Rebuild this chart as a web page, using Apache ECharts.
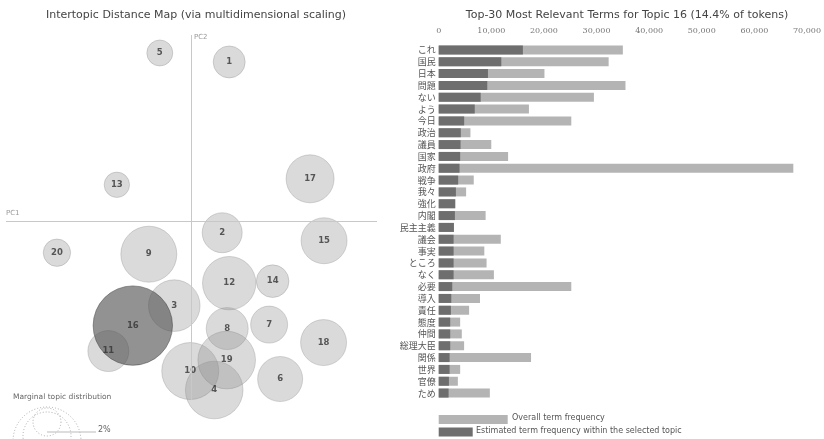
<!DOCTYPE html>
<html>
<head>
<meta charset="utf-8">
<script src="https://cdn.jsdelivr.net/npm/echarts@6/dist/echarts.min.js"></script>
<style>
  html, body { margin: 0; padding: 0; background: #fff; }
  #main { width: 824px; height: 439px; }
</style>
</head>
<body>
<div id="main"></div>
<script>
// topics on the intertopic map (PC1 / PC2 coordinates, share of tokens in %)
var topicIds   = [1, 2, 3, 4, 5, 6, 7, 8, 9, 10, 11, 12, 13, 14, 15, 16, 17, 18, 19, 20];
var pc1        = [0.077, 0.063, -0.033, 0.047, -0.062, 0.179, 0.157, 0.073, -0.084, -0.001, -0.165, 0.077, -0.148, 0.164, 0.267, -0.116, 0.239, 0.266, 0.072, -0.268];
var pc2        = [0.320, -0.022, -0.168, -0.337, 0.338, -0.315, -0.206, -0.214, -0.065, -0.299, -0.259, -0.123, 0.074, -0.119, -0.038, -0.208, 0.086, -0.242, -0.277, -0.062];
var topicShare = [2.34, 3.65, 6.08, 7.58, 1.54, 4.63, 3.13, 4.03, 7.16, 7.42, 3.84, 6.51, 1.47, 2.43, 4.83, 14.4, 5.26, 4.83, 7.58, 1.71];
var selectedTopic = 16;

// top-30 terms for topic 16
var terms = ['これ', '国民', '日本', '問題', 'ない', 'よう', '今日', '政治', '議員', '国家',
             '政府', '戦争', '我々', '強化', '内閣', '民主主義', '議会', '事実', 'ところ', 'なく',
             '必要', '導入', '責任', '態度', '仲間', '総理大臣', '関係', '世界', '官僚', 'ため'];
var overallFreq = [35000, 32300, 20100, 35500, 29500, 17150, 25200, 6030, 9990, 13190,
                   67400, 6660, 5210, 3140, 8920, 2890, 11800, 8670, 9100, 10490,
                   25200, 7850, 5780, 4080, 4390, 4830, 17550, 4080, 3640, 9720];
var topicFreq   = [16000, 11900, 9360, 9230, 7980, 6850, 4840, 4200, 4150, 4080,
                   3960, 3700, 3270, 3140, 3080, 2890, 2830, 2830, 2830, 2830,
                   2575, 2390, 2320, 2190, 2190, 2190, 2070, 2070, 1940, 1880];

var bigR = 39.7; // radius (px) of the selected topic bubble

var bubbleData = topicIds.map(function (id, i) {
  var d = { value: [pc1[i], pc2[i], topicShare[i], id] };
  if (id === selectedTopic) {
    d.itemStyle = { color: 'rgba(80,80,80,0.78)', borderColor: 'rgba(60,60,60,0.6)' };
  }
  return d;
});

var myChart = echarts.init(document.getElementById('main'));
var textFont = 'DejaVu Sans';

var option = {
  animation: false,
  textStyle: { fontFamily: textFont },
  title: [
    {
      text: 'Intertopic Distance Map (via multidimensional scaling)',
      left: 191, top: 5, textAlign: 'center',
      textStyle: { fontSize: 11, fontWeight: 'normal', color: '#444', fontFamily: textFont }
    },
    {
      text: 'Top-30 Most Relevant Terms for Topic 16 (14.4% of tokens)',
      left: 622, top: 5, textAlign: 'center',
      textStyle: { fontSize: 11, fontWeight: 'normal', color: '#444', fontFamily: textFont }
    }
  ],
  grid: [
    { left: 6, top: 35, width: 371, height: 365 },
    { left: 438.7, right: 14, top: 44, bottom: 40 }
  ],
  xAxis: [
    { gridIndex: 0, type: 'value', min: -0.37, max: 0.373, show: false },
    {
      gridIndex: 1, type: 'value', position: 'top', min: 0, max: 70000, interval: 10000,
      axisLine: { show: false }, axisTick: { show: false }, splitLine: { show: false },
      axisLabel: {
        fontSize: 8, color: '#777', fontFamily: 'DejaVu Serif', margin: 9,
        formatter: function (v) { return v.toLocaleString('en-US'); }
      }
    }
  ],
  yAxis: [
    { gridIndex: 0, type: 'value', min: -0.357, max: 0.374, show: false },
    {
      gridIndex: 1, type: 'category', data: terms, inverse: true,
      axisLine: { show: false }, axisTick: { show: false },
      axisLabel: { fontSize: 9, color: '#555', margin: 3, fontFamily: 'Noto Sans CJK JP' }
    }
  ],
  series: [
    {
      type: 'scatter',
      xAxisIndex: 0, yAxisIndex: 0,
      data: bubbleData,
      symbolSize: function (v) { return 2 * bigR * Math.sqrt(v[2] / 14.4); },
      itemStyle: { color: 'rgba(140,140,140,0.4)', borderColor: 'rgba(120,120,120,0.35)', borderWidth: 1 },
      label: {
        show: true, position: 'inside',
        formatter: function (p) { return p.value[3]; },
        fontSize: 8.5, fontWeight: 'bold', color: '#333', fontFamily: textFont
      },
      markLine: {
        silent: true, symbol: 'none',
        lineStyle: { color: '#c8c8c8', width: 1, type: 'solid' },
        label: { show: false },
        data: [{ xAxis: 0 }, { yAxis: 0 }]
      }
    },
    {
      name: 'Overall term frequency',
      type: 'bar', xAxisIndex: 1, yAxisIndex: 1,
      data: overallFreq, barWidth: 9, barGap: '-100%',
      itemStyle: { color: '#b4b4b4' }
    },
    {
      name: 'Estimated term frequency within the selected topic',
      type: 'bar', xAxisIndex: 1, yAxisIndex: 1,
      data: topicFreq, barWidth: 9, barGap: '-100%',
      itemStyle: { color: '#6e6e6e' }
    }
  ],
  graphic: [
    { type: 'text', left: 6, top: 210, style: { text: 'PC1', font: '7px DejaVu Sans', fill: '#999' } },
    { type: 'text', left: 194, top: 34, style: { text: 'PC2', font: '7px DejaVu Sans', fill: '#999' } },
    // marginal topic distribution key
    { type: 'text', left: 13, top: 393, style: { text: 'Marginal topic distribution', font: '7.5px DejaVu Sans', fill: '#666' } },
    { type: 'circle', shape: { cx: 47, cy: 441, r: 34 }, style: { fill: 'none', stroke: '#aaa', lineWidth: 1, lineDash: [1, 2] } },
    { type: 'circle', shape: { cx: 47, cy: 436, r: 24 }, style: { fill: 'none', stroke: '#aaa', lineWidth: 1, lineDash: [1, 2] } },
    { type: 'circle', shape: { cx: 47, cy: 422, r: 14 }, style: { fill: 'none', stroke: '#aaa', lineWidth: 1, lineDash: [1, 2] } },
    { type: 'line', shape: { x1: 47, y1: 432, x2: 96, y2: 432 }, style: { stroke: '#bbb', lineWidth: 1 } },
    { type: 'text', left: 98, top: 426, style: { text: '2%', font: '8px DejaVu Sans', fill: '#666' } },
    // bar chart key
    { type: 'rect', shape: { x: 438.7, y: 415, width: 69, height: 9 }, style: { fill: '#b4b4b4' } },
    { type: 'text', left: 512, top: 414, style: { text: 'Overall term frequency', font: '8px DejaVu Sans', fill: '#555' } },
    { type: 'rect', shape: { x: 438.7, y: 427.5, width: 34, height: 9 }, style: { fill: '#6e6e6e' } },
    { type: 'text', left: 476, top: 427, style: { text: 'Estimated term frequency within the selected topic', font: '8px DejaVu Sans', fill: '#555' } }
  ]
};

myChart.setOption(option);
</script>
</body>
</html>
